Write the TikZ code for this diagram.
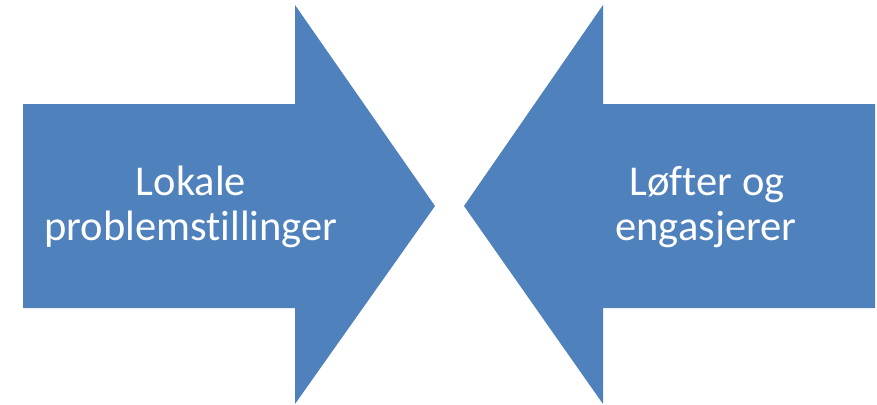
\documentclass[tikz,border=0pt]{standalone}
\usepackage{fontspec}
\setmainfont[Ligatures={NoCommon}]{Carlito}
\definecolor{offblue}{HTML}{4F81BD}
\begin{document}
\begin{tikzpicture}[x=1pt,y=-1pt,
  arrowshape/.style={fill=offblue,draw=none},
  lbl/.style={text=white,anchor=base,inner sep=0pt,font=\fontsize{42.5}{44}\selectfont}]
\useasboundingbox (0,0) rectangle (877,404);
\fill[white] (0,0) rectangle (877,404);
\path[arrowshape] (23,104) -- (295,104) -- (295,5) -- (435,206) -- (295,404) -- (295,308) -- (23,308) -- cycle;
\path[arrowshape] (875,104) -- (603,104) -- (603,5) -- (464,206) -- (603,404) -- (603,308) -- (875,308) -- cycle;
\node[lbl] (l1) at (191,195) {Lokale};
\node[lbl] (l2) at (191,240) {problemstillinger};
\node[lbl] (r1) at (707,195) {Løfter og};
\node[lbl] (r2) at (706,240) {engasjerer};
\end{tikzpicture}
\end{document}
